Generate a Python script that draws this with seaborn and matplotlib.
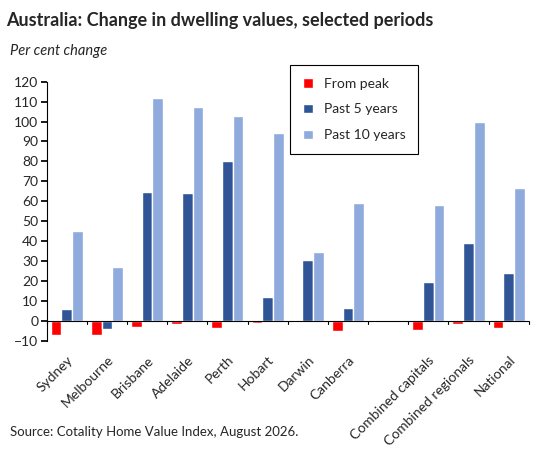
import matplotlib
matplotlib.use("Agg")
import matplotlib.pyplot as plt
import seaborn as sns
import pandas as pd
import numpy as np

categories = ["Sydney", "Melbourne", "Brisbane", "Adelaide", "Perth", "Hobart", "Darwin",
              "Canberra", " ", "Combined capitals", "Combined regionals", "National"]
from_peak = [-7, -7, -3, -1.5, -3.5, -1, 0, -5, np.nan, -4.5, -1.5, -3.5]
past_5 = [6, -4, 64.5, 64, 80, 12, 30.5, 6.5, np.nan, 19.5, 39, 24]
past_10 = [45, 27, 112, 107.5, 103, 94, 34.5, 59, np.nan, 58, 100, 66.5]
series = ["From peak", "Past 5 years", "Past 10 years"]
colors = ["#FF0000", "#2F5597", "#8FAADC"]

sns.set_theme(style="white")
plt.rcParams['font.family'] = ['Lato', 'DejaVu Sans']

df = pd.DataFrame({
    "cat": categories * 3,
    "series": sum([[s] * len(categories) for s in series], []),
    "val": from_peak + past_5 + past_10,
})

fig = plt.figure(figsize=(5.48, 4.54), dpi=100)
ax = fig.add_axes([0.085, 0.25, 0.88, 0.57])
sns.barplot(data=df, x="cat", y="val", hue="series", palette=colors, order=categories,
            hue_order=series, width=0.8, ax=ax, saturation=1)
ax.set_ylim(-10, 120)
ax.set_yticks(range(-10, 121, 10))
ax.set_xlim(-0.5, len(categories) - 0.5)
ax.set_xlabel("")
ax.set_ylabel("")
ax.axhline(0, color="black", lw=0.8)
for s in ["top", "right", "bottom"]:
    ax.spines[s].set_visible(False)
ax.spines["left"].set_color("black")
ax.spines["left"].set_linewidth(0.8)
ax.tick_params(axis="y", left=True, length=4, color="black", labelsize=10, pad=2)
ax.tick_params(axis="x", bottom=False, labelsize=10)
ax.set_xticks(range(len(categories)))
ax.set_xticklabels(categories, rotation=45, ha="right", rotation_mode="anchor")
for i in range(len(categories) + 1):
    ax.plot([i - 0.5, i - 0.5], [0, -1.5], color="black", lw=0.8, clip_on=False)
leg = ax.legend(loc="upper left", bbox_to_anchor=(0.5, 1.075), frameon=True, fontsize=10,
                handlelength=0.7, handleheight=0.7, borderpad=0.6, labelspacing=1.0,
                framealpha=1)
leg.set_zorder(10)
leg.get_frame().set_edgecolor("black")
leg.get_frame().set_boxstyle("square")
leg.get_frame().set_linewidth(0.8)

fig.text(0.012, 0.955, "Australia: Change in dwelling values, selected periods",
         fontsize=13, fontweight="bold", va="center")
fig.text(0.018, 0.888, "Per cent change", fontsize=10.5, style="italic", va="center")
fig.text(0.018, 0.048, "Source: Cotality Home Value Index, August 2026.", fontsize=9.5, va="center")
fig.savefig("out.png", dpi=100)
